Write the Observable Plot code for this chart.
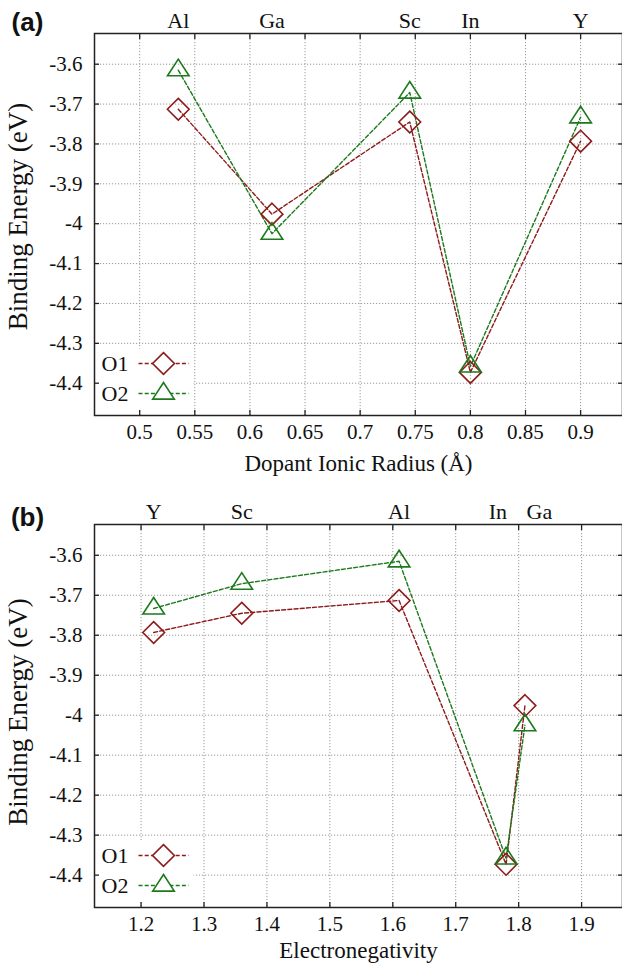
<!DOCTYPE html>
<html>
<head>
<meta charset="utf-8">
<script src="https://cdn.jsdelivr.net/npm/d3@7"></script>
<script src="https://cdn.jsdelivr.net/npm/@observablehq/plot@0.6"></script>
<style>
  html, body { margin: 0; padding: 0; background: #fff; }
  #chart svg { display: block; }
</style>
</head>
<body>
<div id="chart"></div>
<script>
// ---- data ----
const elements = ["Al", "Ga", "Sc", "In", "Y"];
const ionicRadius = [0.535, 0.62, 0.745, 0.80, 0.90];
const electronegativity = [1.61, 1.81, 1.36, 1.78, 1.22];
const bindingO1 = [-3.713, -3.976, -3.745, -4.373, -3.793];
const bindingO2 = [-3.615, -4.025, -3.671, -4.358, -3.733];

const xTicksA = [0.5, 0.55, 0.6, 0.65, 0.7, 0.75, 0.8, 0.85, 0.9];
const xTicksB = [1.2, 1.3, 1.4, 1.5, 1.6, 1.7, 1.8, 1.9];
const yTicks = [-3.6, -3.7, -3.8, -3.9, -4, -4.1, -4.2, -4.3, -4.4];
const topLabelsA = ["Al", "Ga", "Sc", "In", "Y"];
const topLabelPosA = [0.535, 0.62, 0.745, 0.80, 0.90];
const topLabelsB = ["Y", "Sc", "Al", "In", "Ga"];
const topLabelPosB = [1.22, 1.36, 1.61, 1.767, 1.833];
const seriesNames = ["O1", "O2"];

// ---- styling ----
const RED = "#8e1b1b";
const GREEN = "#1c7a1c";
const SERIF = "Liberation Serif, Times New Roman, serif";
const fmt = d => String(d);

const triSym = {draw(ctx, size) {
  const r = Math.sqrt(size / Math.PI);
  ctx.moveTo(0, -1.1 * r);
  ctx.lineTo(1.08 * r, 0.56 * r);
  ctx.lineTo(-1.08 * r, 0.56 * r);
  ctx.closePath();
}};
const lineSym = {draw(ctx) { ctx.moveTo(-25, 0); ctx.lineTo(25, 0); }};

function rowsFor(xArr, vals) {
  return d3.sort(elements.map((el, i) => ({el, x: xArr[i], e: vals[i]})), d => d.x);
}

function panel({xArr, xDomain, xTicks, labels, labelPos, xTitle, xTitleDy, tag, marginTop, marginBottom, height, yTitleDy}) {
  const W = 622, mL = 94, mR = 0;
  const frameH = height - marginTop - marginBottom;
  const r1 = rowsFor(xArr, bindingO1);
  const r2 = rowsFor(xArr, bindingO2);
  const topLab = labels.map((t, i) => ({t, x: labelPos[i]}));
  const grid = {stroke: "#9a9a9a", strokeOpacity: 1, strokeDasharray: "1.2,1.8", strokeWidth: 1};
  const tickSty = {tickFormat: () => "", label: null, tickSize: 5, stroke: "#222", strokeWidth: 1.3};
  const txt = {fontFamily: SERIF, lineAnchor: "middle"};
  return Plot.plot({
    width: W, height, marginLeft: mL, marginRight: mR, marginTop, marginBottom,
    style: {fontFamily: SERIF, fontSize: "21px", color: "#111", background: "#fff", overflow: "hidden"},
    x: {domain: xDomain},
    y: {domain: [-4.481, -3.523]},
    marks: [
      Plot.gridX(xTicks, grid),
      Plot.gridY(yTicks, grid),
      // legend background
      Plot.frame({fill: "#fff", stroke: null, insetLeft: 1, insetRight: W - mL - mR - 99, insetTop: frameH - 67, insetBottom: 6}),
      Plot.frame({stroke: "#222", strokeWidth: 1.5}),
      // inward ticks
      Plot.axisX(xTicks, {...tickSty, anchor: "bottom", dy: -5}),
      Plot.axisX(xTicks, {...tickSty, anchor: "top", dy: 5}),
      Plot.axisY(yTicks, {...tickSty, anchor: "left", dx: 5}),
      Plot.axisY(yTicks, {...tickSty, anchor: "right", dx: -5}),
      // tick labels
      Plot.axisX(xTicks, {anchor: "bottom", tickSize: 0, tickPadding: 9, tickFormat: fmt, label: null, fontSize: 21, fontFamily: SERIF}),
      Plot.axisY(yTicks, {anchor: "left", tickSize: 0, tickPadding: 12, tickFormat: fmt, label: null, fontSize: 21, fontFamily: SERIF}),
      // top element labels
      Plot.text(topLab, {...txt, x: "x", text: "t", frameAnchor: "top", dy: -13, fontSize: 22}),
      // series
      Plot.line(r1, {x: "x", y: "e", stroke: RED, strokeWidth: 1.4, strokeDasharray: "4,2.2"}),
      Plot.line(r2, {x: "x", y: "e", stroke: GREEN, strokeWidth: 1.4, strokeDasharray: "4,2.2"}),
      Plot.dot(r1, {x: "x", y: "e", symbol: "diamond2", r: 9.8, stroke: RED, strokeWidth: 1.6, fill: "none"}),
      Plot.dot(r2, {x: "x", y: "e", symbol: triSym, r: 10, stroke: GREEN, strokeWidth: 1.6, fill: "none"}),
      // legend
      Plot.text([seriesNames[0]], {...txt, frameAnchor: "bottom-left", dx: 34, dy: -52, textAnchor: "end", fontSize: 22}),
      Plot.text([seriesNames[1]], {...txt, frameAnchor: "bottom-left", dx: 34, dy: -22, textAnchor: "end", fontSize: 22}),
      Plot.dot([0], {frameAnchor: "bottom-left", dx: 69, dy: -52, symbol: lineSym, r: 5, stroke: RED, strokeWidth: 1.4, strokeDasharray: "4,2.2", fill: "none"}),
      Plot.dot([0], {frameAnchor: "bottom-left", dx: 69, dy: -22, symbol: lineSym, r: 5, stroke: GREEN, strokeWidth: 1.4, strokeDasharray: "4,2.2", fill: "none"}),
      Plot.dot([0], {frameAnchor: "bottom-left", dx: 69, dy: -52, symbol: "diamond2", r: 9.8, stroke: RED, strokeWidth: 1.6, fill: "#fff"}),
      Plot.dot([0], {frameAnchor: "bottom-left", dx: 69, dy: -22, symbol: triSym, r: 10, stroke: GREEN, strokeWidth: 1.6, fill: "#fff"}),
      // titles
      Plot.text([xTitle], {...txt, frameAnchor: "bottom", dy: xTitleDy, fontSize: 23}),
      Plot.text(["Binding Energy (eV)"], {...txt, frameAnchor: "left", textAnchor: "middle", dx: -76, dy: yTitleDy, rotate: -90, fontSize: 27}),
      Plot.text([tag.text], {frameAnchor: "top-left", textAnchor: "middle", lineAnchor: "middle", dx: -67, dy: tag.dy, fontSize: 26, fontWeight: "bold", fontFamily: "Liberation Sans, Arial, sans-serif"})
    ]
  });
}

const root = document.getElementById("chart");
root.appendChild(panel({
  xArr: ionicRadius, xDomain: [0.459, 0.938], xTicks: xTicksA,
  labels: topLabelsA, labelPos: topLabelPosA,
  xTitle: "Dopant Ionic Radius (Å)", xTitleDy: 48, tag: {text: "(a)", dy: -11},
  marginTop: 33, marginBottom: 68, height: 483, yTitleDy: -8
}));
root.appendChild(panel({
  xArr: electronegativity, xDomain: [1.126, 1.965], xTicks: xTicksB,
  labels: topLabelsB, labelPos: topLabelPosB,
  xTitle: "Electronegativity", xTitleDy: 43, tag: {text: "(b)", dy: -7},
  marginTop: 41, marginBottom: 59, height: 483, yTitleDy: -4
}));
</script>
</body>
</html>
